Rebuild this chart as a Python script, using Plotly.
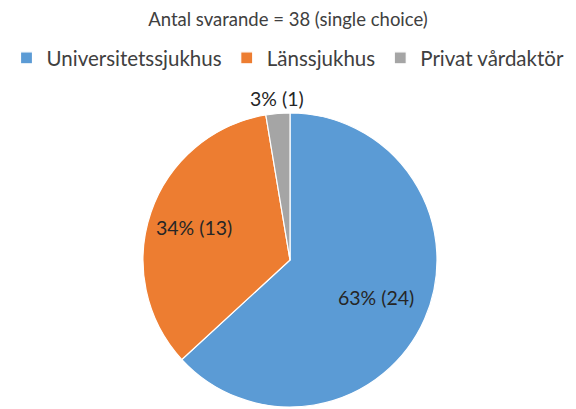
import math
import plotly.graph_objects as go

categories = ["Universitetssjukhus", "Länssjukhus", "Privat vårdaktör"]
counts = [24, 13, 1]
percents = [63, 34, 3]
colors = ["#5B9BD5", "#ED7D31", "#A5A5A5"]
title_text = "Antal svarande = 38 (single choice)"

W, H = 576, 409
FONT = "Lato, Carlito, sans-serif"

# pie geometry (pixels)
cx, cy, r = 290, 260, 147
# radial placement of each label (fraction of radius); >1 means outside
label_radius = [0.64, 0.69, 1.10]

fig = go.Figure(go.Pie(
    labels=categories,
    values=counts,
    textinfo="none",
    marker=dict(colors=colors, line=dict(color="white", width=1.2)),
    sort=False,
    direction="clockwise",
    rotation=0,
    domain=dict(x=[(cx - r) / W, (cx + r) / W], y=[(H - cy - r) / H, (H - cy + r) / H]),
    showlegend=True,
    hoverinfo="label+value+percent",
))

# labels placed at the angular middle of each slice
total = sum(counts)
cum = 0
annotations = []
for cat, c, p, f in zip(categories, counts, percents, label_radius):
    mid = (cum + c / 2) / total * 2 * math.pi
    cum += c
    px = cx + f * r * math.sin(mid)
    py = cy - f * r * math.cos(mid)
    annotations.append(dict(
        x=px / W, y=1 - py / H, xref="paper", yref="paper",
        text=f"{p}% ({c})", showarrow=False,
        xanchor="center", yanchor="middle",
        font=dict(family=FONT, size=19.5, color="#262626"),
    ))

fig.update_layout(
    width=W, height=H,
    margin=dict(l=0, r=0, t=0, b=0),
    paper_bgcolor="white",
    plot_bgcolor="white",
    font=dict(family=FONT, color="#404040"),
    title=dict(text=title_text, x=0.5, xanchor="center", y=1 - 20 / H, yanchor="middle",
               font=dict(size=18.5, color="#404040")),
    legend=dict(orientation="h", x=0.5, xanchor="center", y=1 - 38 / H, yanchor="top",
                font=dict(size=20.5, color="#404040"),
                traceorder="normal"),
    annotations=annotations,
)

fig.write_html("out.html",
               config={"displayModeBar": False},
               post_script="document.body.style.margin='0';document.body.style.overflow='hidden';")
